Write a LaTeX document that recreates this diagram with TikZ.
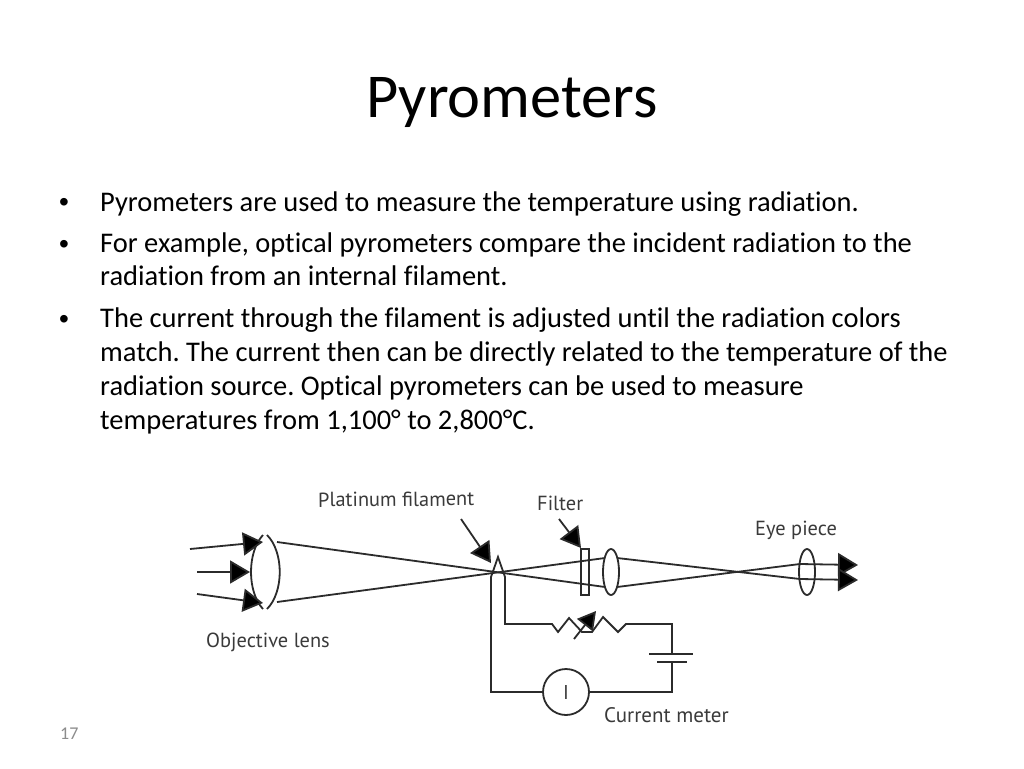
\documentclass[tikz,border=0pt]{standalone}
\usepackage{fontspec}
\setmainfont[Ligatures=NoCommon]{Carlito}
\newfontfamily\labelfont{PT Sans}
\newfontfamily\bulletfont{Liberation Sans}
\usetikzlibrary{arrows.meta}
\definecolor{ink}{HTML}{2B2B2B}
\definecolor{labelgray}{HTML}{3A3A3A}
\tikzset{
  bodyline/.style={anchor=base west,inner sep=0pt,font=\frenchspacing\fontsize{28.47}{34}\selectfont,text=black},
  bulletmark/.style={anchor=base west,inner sep=0pt,font=\bulletfont\fontsize{28}{30}\selectfont,text=black},
  difflabel/.style={anchor=base west,inner sep=0pt,font=\labelfont\fontsize{20.4}{24}\selectfont,text=labelgray},
  wire/.style={draw=ink,line width=1.8pt,line join=miter},
  ray/.style={draw=ink,line width=1.8pt},
  tiparrow/.style={draw=ink,line width=1.8pt,-{Triangle[length=20pt,width=23pt,fill=black]}},
  meter/.style={circle,draw=ink,line width=1.8pt,minimum size=46pt,inner sep=0pt,fill=white,font=\labelfont\fontsize{20}{22}\selectfont,text=labelgray},
  lensline/.style={draw=ink,line width=1.8pt},
}
\begin{document}
\begin{tikzpicture}[x=1pt,y=-1pt]
\useasboundingbox (0,0) rectangle (1024,768);
\fill[white] (0,0) rectangle (1024,768);
\node[anchor=base,inner sep=0pt,font=\fontsize{62.4}{68}\selectfont] (title) at (512,117) {Pyrometers};

\node[bulletmark] (b1) at (59,211) {•};
\node[bulletmark] (b2) at (59,253) {•};
\node[bulletmark] (b3) at (59,328) {•};
\node[bodyline] (l1) at (100,211) {Pyrometers are used to measure the temperature using radiation.};
\node[bodyline] (l2) at (100,252) {For example, optical pyrometers compare the incident radiation to the};
\node[bodyline] (l3) at (100,285) {radiation from an internal filament.};
\node[bodyline] (l4) at (100,327) {The current through the filament is adjusted until the radiation colors};
\node[bodyline] (l5) at (100,361) {match. The current then can be directly related to the temperature of the};
\node[bodyline] (l6) at (100,395) {radiation source. Optical pyrometers can be used to measure};
\node[bodyline] (l7) at (100,429) {temperatures from 1,100° to 2,800°C.};
\node[anchor=base west,inner sep=0pt,font=\fontsize{18}{20}\selectfont,text=black!45] (num) at (60,739) {17};

% labels
\node[difflabel,rotate=0.5] (lplat) at (318,507) {Platinum filament};
\node[difflabel] (lfilt) at (537,510) {Filter};
\node[difflabel] (leye) at (755,535) {Eye piece};
\node[difflabel] (lobj) at (206,647) {Objective lens};
\node[difflabel,font=\labelfont\fontsize{21}{24}\selectfont] (lcur) at (604,722) {Current meter};

% coordinates
\coordinate (a1) at (190,549); \coordinate (a1t) at (263,542);
\coordinate (a2) at (197,572); \coordinate (a2t) at (250,572);
\coordinate (a3) at (197,594); \coordinate (a3t) at (263,603);
\coordinate (r1s) at (277,542); \coordinate (r1e) at (605,587);
\coordinate (r2s) at (277,602); \coordinate (r2e) at (605,558);
\coordinate (r3s) at (617,558); \coordinate (r3e) at (800,579);
\coordinate (r4s) at (617,587); \coordinate (r4e) at (800,564);
\coordinate (o1) at (858,565); \coordinate (o2) at (858,580);
\coordinate (o1s) at (800,564); \coordinate (o2s) at (800,579);
\coordinate (pa) at (461,519); \coordinate (pt) at (491,563);
\coordinate (fa) at (559,519); \coordinate (ft) at (581,548);

% objective lens
\draw[lensline] (263,535) .. controls (247,552) and (247,592) .. (263,609);
\draw[lensline] (267,535) .. controls (284,552) and (284,592) .. (267,609);
% filter
\draw[draw=ink,line width=1.5pt] (581,549) rectangle (589,595);
% second lens and eye piece
\draw[lensline] (611,572) ellipse [x radius=8,y radius=23];
\draw[lensline] (807,572) ellipse [x radius=8,y radius=23];

% rays
\draw[tiparrow] (a1) -- (a1t);
\draw[tiparrow] (a2) -- (a2t);
\draw[tiparrow] (a3) -- (a3t);
\draw[ray] (r1s) -- (r1e);
\draw[ray] (r2s) -- (r2e);
\draw[ray] (r3s) -- (r3e);
\draw[ray] (r4s) -- (r4e);
\draw[tiparrow] (o1s) -- (o1);
\draw[tiparrow] (o2s) -- (o2);
\draw[tiparrow] (pa) -- (pt);
\draw[tiparrow] (fa) -- (ft);

% circuit
\node[meter] (im) at (566,692) {I};
\coordinate (wa) at (491,692);
\coordinate (wb) at (672,692);
\draw[wire] (im) -- (wa) -- (491,577) -- (498,557) -- (505,577) -- (505,624) -- (552,624)
  -- (558,632) -- (569,618) -- (582,632) -- (592,632) -- (603,617) -- (618,632) -- (626,624) -- (672,624) -- (672,654);
\draw[wire] (672,662) -- (wb) -- (im);
\draw[wire] (649,654) -- (693,654);
\draw[wire] (657,662) -- (687,662);
\draw[draw=ink,line width=1.8pt,-{Triangle[length=18pt,width=20pt,fill=black]}] (574,639) -- (596,611);
\end{tikzpicture}
\end{document}
